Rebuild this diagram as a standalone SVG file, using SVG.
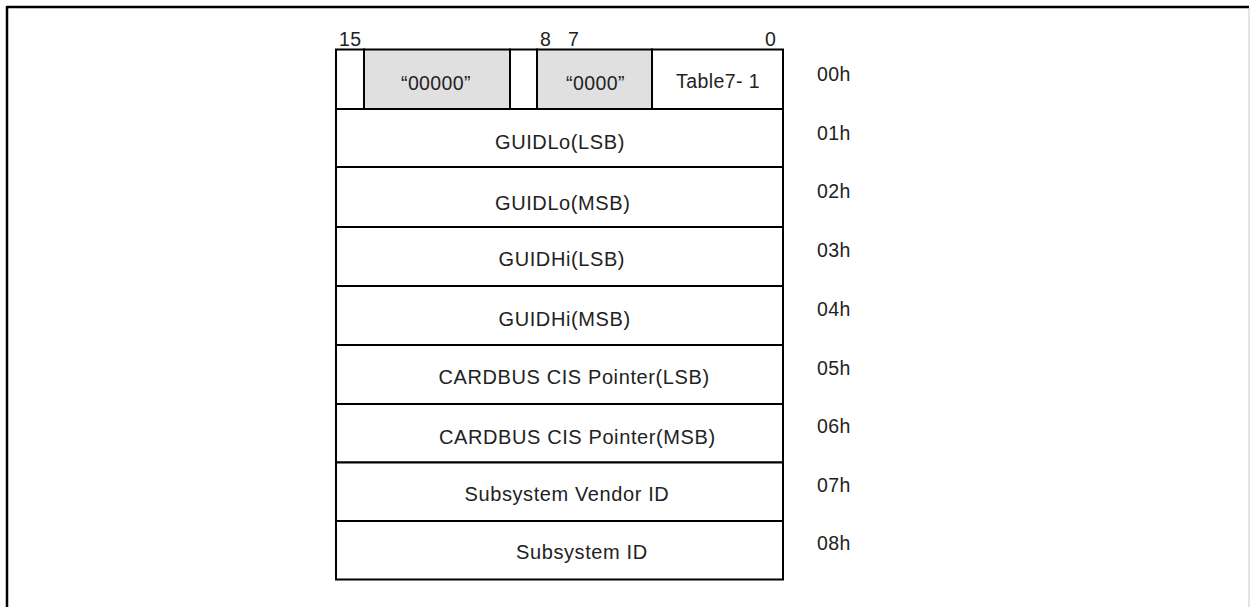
<svg xmlns="http://www.w3.org/2000/svg" width="1250" height="607" viewBox="0 0 1250 607">
<style>
.cell{fill:#ffffff;stroke:#000000;stroke-width:2}
.gray{fill:#e0e0e0;stroke:#000000;stroke-width:2}
.t{font-family:"Liberation Sans",Arial,sans-serif;font-size:19.5px;fill:#222222;letter-spacing:0.4px}
.r{font-family:"Liberation Sans",Arial,sans-serif;font-size:20px;fill:#222222;letter-spacing:0.6px}
.m{text-anchor:middle}
</style>
<rect x="0" y="0" width="1250" height="607" fill="#ffffff"/>
<g id="frame">
<line x1="7" y1="7" x2="1249" y2="7" stroke="#000" stroke-width="2.5"/>
<line x1="7" y1="6" x2="7" y2="607" stroke="#000" stroke-width="2.5"/>
<line x1="1249" y1="8" x2="1249" y2="607" stroke="#c8c8c8" stroke-width="1"/>
</g>
<g id="bits">
<text class="t" x="339" y="46">15</text>
<text class="t" x="540" y="46">8</text>
<text class="t" x="568" y="46">7</text>
<text class="t" x="765" y="46">0</text>
</g>
<g id="row00">
<rect class="cell" x="336" y="49.5" width="28" height="59.5"/>
<rect class="gray" x="364" y="49.5" width="146" height="59.5"/>
<rect class="cell" x="510" y="49.5" width="27" height="59.5"/>
<rect class="gray" x="537" y="49.5" width="115" height="59.5"/>
<rect class="cell" x="652" y="49.5" width="131" height="59.5"/>
<text class="t m" x="436" y="90">“00000”</text>
<text class="t m" x="595.5" y="90">“0000”</text>
<text class="t m" x="718" y="88">Table7- 1</text>
<text class="t" x="817" y="81">00h</text>
</g>
<g id="row01">
<rect class="cell" x="336" y="109" width="447" height="58"/>
<text class="r" x="495" y="149">GUIDLo(LSB)</text>
<text class="t" x="817" y="140">01h</text>
</g>
<g id="row02">
<rect class="cell" x="336" y="167" width="447" height="60"/>
<text class="r" x="495" y="210">GUIDLo(MSB)</text>
<text class="t" x="817" y="198">02h</text>
</g>
<g id="row03">
<rect class="cell" x="336" y="227" width="447" height="59"/>
<text class="r" x="498.5" y="266">GUIDHi(LSB)</text>
<text class="t" x="817" y="257">03h</text>
</g>
<g id="row04">
<rect class="cell" x="336" y="286" width="447" height="59"/>
<text class="r" x="498.5" y="326">GUIDHi(MSB)</text>
<text class="t" x="817" y="316">04h</text>
</g>
<g id="row05">
<rect class="cell" x="336" y="345" width="447" height="59"/>
<text class="r" x="438.5" y="384">CARDBUS CIS Pointer(LSB)</text>
<text class="t" x="817" y="375">05h</text>
</g>
<g id="row06">
<rect class="cell" x="336" y="404" width="447" height="58.5"/>
<text class="r" x="439" y="444">CARDBUS CIS Pointer(MSB)</text>
<text class="t" x="817" y="433">06h</text>
</g>
<g id="row07">
<rect class="cell" x="336" y="462.5" width="447" height="58.5"/>
<text class="r" x="464.5" y="501">Subsystem Vendor ID</text>
<text class="t" x="817" y="492">07h</text>
</g>
<g id="row08">
<rect class="cell" x="336" y="521" width="447" height="58.5"/>
<text class="r" x="516" y="559">Subsystem ID</text>
<text class="t" x="817" y="550">08h</text>
</g>
</svg>
